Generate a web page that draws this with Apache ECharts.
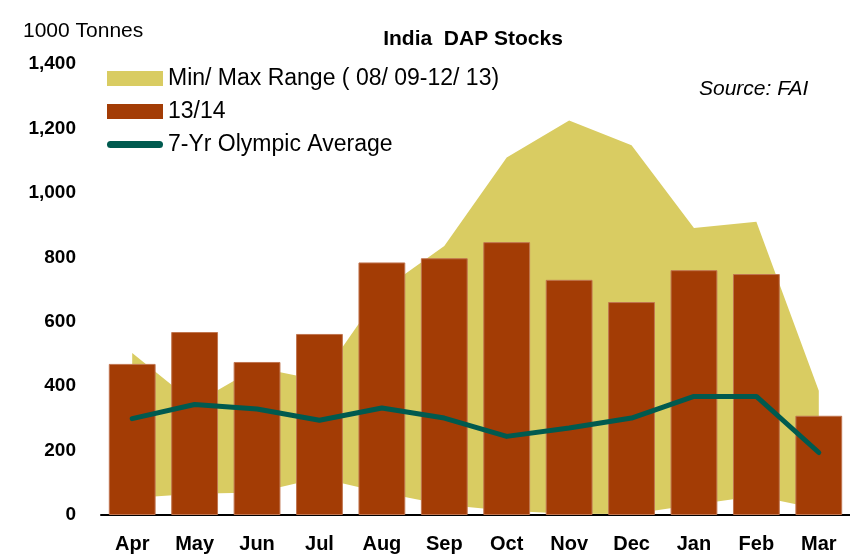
<!DOCTYPE html>
<html>
<head>
<meta charset="utf-8">
<script src="https://cdn.jsdelivr.net/npm/echarts@6/dist/echarts.min.js"></script>
<style>
  html, body { margin: 0; padding: 0; background: #fff; }
  #chart { width: 850px; height: 557px; }
</style>
</head>
<body>
<div id="chart"></div>
<script>
// months of the fertiliser year
const months = ['Apr', 'May', 'Jun', 'Jul', 'Aug', 'Sep', 'Oct', 'Nov', 'Dec', 'Jan', 'Feb', 'Mar'];
// min / max range 08/09-12/13 (1000 t)
const rangeMin = [53, 66, 70, 115, 70, 32, 13, 4, 3, 32, 59, 19];
const rangeMax = [503, 346, 458, 418, 697, 835, 1110, 1225, 1148, 891, 910, 386];
// 13/14 stocks
const stocks1314 = [469, 568, 475, 562, 784, 797, 847, 730, 661, 760, 748, 308];
// 7-yr olympic average
const olympicAvg = [299, 343, 329, 294, 332, 301, 244, 270, 301, 368, 368, 194];
const yTicks = [0, 200, 400, 600, 800, 1000, 1200, 1400];

const chart = echarts.init(document.getElementById('chart'));

const khaki = '#D9CC62';
const brown = '#A33C05';
const teal = '#005A4F';
const font = '"Liberation Sans", Arial, sans-serif';

// band height = max - min, stacked on top of the min line
const rangeSpan = rangeMax.map((v, i) => v - rangeMin[i]);

const option = {
  animation: false,
  backgroundColor: '#fff',
  title: [
    {
      text: 'India  DAP Stocks',
      left: 468, top: 24, textAlign: 'center',
      textStyle: { fontFamily: font, fontWeight: 'bold', fontSize: 21, color: '#000' }
    },
    {
      text: '1000 Tonnes',
      left: 18, top: 16,
      textStyle: { fontFamily: font, fontWeight: 'normal', fontSize: 21, color: '#000' }
    },
    {
      text: 'Source: FAI',
      left: 694, top: 74,
      textStyle: { fontFamily: font, fontStyle: 'italic', fontWeight: 'normal', fontSize: 21, color: '#000' }
    }
  ],
  legend: {
    orient: 'vertical',
    left: 102, top: 62,
    itemWidth: 56, itemHeight: 15, itemGap: 10,
    itemStyle: { borderWidth: 0 },
    textStyle: { fontFamily: font, fontSize: 23, color: '#000', lineHeight: 23 },
    data: [
      { name: 'Min/ Max Range ( 08/ 09-12/ 13)', icon: 'rect' },
      { name: '13/14', icon: 'rect', itemStyle: { borderWidth: 0 } },
      {
        name: '7-Yr Olympic Average',
        icon: 'path://M3.5,0 L52.5,0 A3.5,3.5 0 0 1 52.5,7 L3.5,7 A3.5,3.5 0 0 1 3.5,0 Z'
      }
    ]
  },
  grid: { left: 101, right: 0, top: 64, bottom: 42, containLabel: false },
  xAxis: {
    type: 'category',
    data: months,
    boundaryGap: true,
    axisLine: { lineStyle: { color: '#000', width: 2 } },
    axisTick: { show: false },
    axisLabel: {
      margin: 19,
      fontFamily: font, fontWeight: 'bold', fontSize: 20, color: '#000'
    }
  },
  yAxis: {
    type: 'value',
    min: yTicks[0], max: yTicks[yTicks.length - 1], interval: 200,
    axisLine: { show: false },
    axisTick: { show: false },
    splitLine: { show: false },
    axisLabel: {
      margin: 25,
      fontFamily: font, fontWeight: 'bold', fontSize: 19, color: '#000',
      formatter: v => v.toLocaleString('en-US')
    }
  },
  series: [
    {
      name: 'min',
      type: 'line',
      stack: 'range',
      data: rangeMin,
      symbol: 'none',
      lineStyle: { width: 0, opacity: 0 },
      z: 1,
      silent: true
    },
    {
      name: 'Min/ Max Range ( 08/ 09-12/ 13)',
      type: 'line',
      stack: 'range',
      data: rangeSpan,
      symbol: 'none',
      itemStyle: { color: khaki },
      lineStyle: { width: 0, opacity: 0 },
      areaStyle: { color: khaki, opacity: 1 },
      z: 1
    },
    {
      name: '13/14',
      type: 'bar',
      data: stocks1314,
      barWidth: '75%',
      itemStyle: { color: brown, borderColor: '#C07550', borderWidth: 1 },
      z: 2
    },
    {
      name: '7-Yr Olympic Average',
      type: 'line',
      data: olympicAvg,
      symbol: 'none',
      symbolKeepAspect: true,
      itemStyle: { color: teal },
      lineStyle: { color: teal, width: 5, cap: 'round', join: 'round' },
      z: 3
    }
  ]
};

chart.setOption(option);
</script>
</body>
</html>
